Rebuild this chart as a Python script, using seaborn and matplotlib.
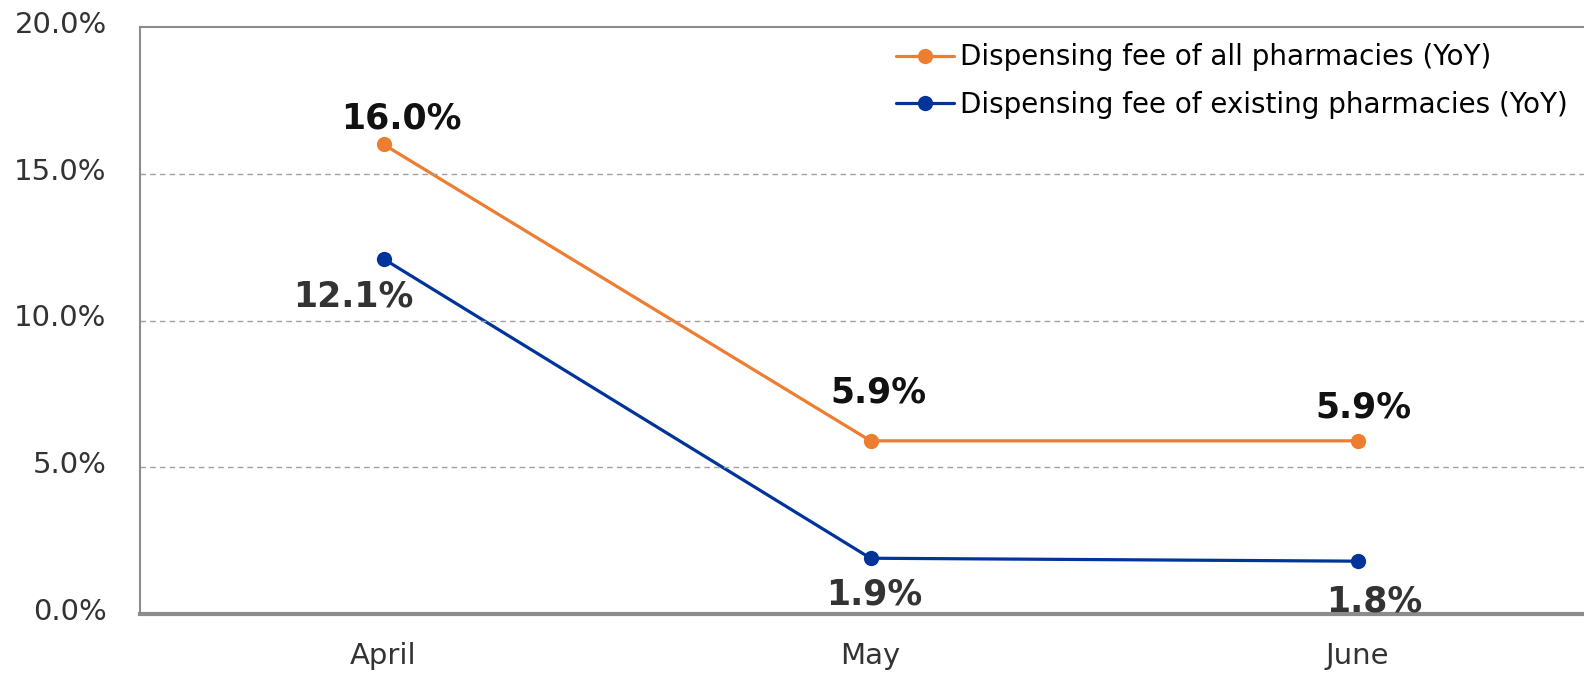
import pandas as pd
import numpy as np
import seaborn as sns
import matplotlib.pyplot as plt
from matplotlib.ticker import FuncFormatter
from matplotlib.transforms import ScaledTranslation

months = ['April', 'May', 'June']
all_pharm = [16.0, 5.9, 5.9]
existing_pharm = [12.1, 1.9, 1.8]
series_names = ['Dispensing fee of all pharmacies (YoY)',
                'Dispensing fee of existing pharmacies (YoY)']

dados = pd.DataFrame({
    'month': months * 2,
    'value': all_pharm + existing_pharm,
    'series': [series_names[0]] * 3 + [series_names[1]] * 3,
})

sns.set_style('white')
plt.rcParams['font.family'] = ['DejaVu Sans']

cores = {series_names[0]: '#ED7D31', series_names[1]: '#00349A'}

fig = plt.figure(figsize=(15.84, 6.75), dpi=100)
ax = fig.add_axes([140 / 1584, 61 / 675, 1 - 140 / 1584, (614 - 27) / 675])

sns.lineplot(data=dados, x='month', y='value', hue='series', palette=cores,
             marker='o', markersize=11, markeredgewidth=0, linewidth=2.3,
             sort=False, ax=ax)

ax.set_xlim(-0.5, 2.465)
ax.set_ylim(0, 20)
ax.set_yticks([0, 5, 10, 15, 20])
ax.yaxis.set_major_formatter(FuncFormatter(lambda v, p: f'{v:.1f}%'))
ax.set_xlabel('')
ax.set_ylabel('')
ax.tick_params(axis='y', labelsize=21, colors='#333333', length=0, pad=24)
ax.tick_params(axis='x', labelsize=21, colors='#333333', length=0, pad=20)

# rótulos do eixo y um pouco acima da linha
desloc = ScaledTranslation(0, 5 / 100, fig.dpi_scale_trans)
for lbl in ax.get_yticklabels():
    lbl.set_transform(lbl.get_transform() + desloc)

for y in [5, 10, 15]:
    ax.axhline(y, color='#A0A0A0', linestyle=(0, (4, 3)), linewidth=1)

for s in ['left', 'top']:
    ax.spines[s].set_color('#8C8C8C')
    ax.spines[s].set_linewidth(1.5)
ax.spines['bottom'].set_color('#8C8C8C')
ax.spines['bottom'].set_linewidth(3)
ax.spines['right'].set_visible(False)

# etiquetas de dados (offsets em pontos)
off_all = [(13, 19), (6, 35), (4, 24)]
off_ex = [(-22, -27), (3, -26), (12, -29)]
for i, m in enumerate(months):
    ax.annotate(f'{all_pharm[i]:.1f}%', (i, all_pharm[i]), xytext=off_all[i],
                textcoords='offset points', ha='center', va='center',
                fontsize=25, fontweight='bold', color='#111111')
    ax.annotate(f'{existing_pharm[i]:.1f}%', (i, existing_pharm[i]), xytext=off_ex[i],
                textcoords='offset points', ha='center', va='center',
                fontsize=25, fontweight='bold', color='#333333')

handles, labels = ax.get_legend_handles_labels()
ax.legend(handles, labels, loc='upper left', bbox_to_anchor=(756 / 1444, 0.972),
          frameon=False, fontsize=20, labelcolor='black',
          handlelength=2.1, handletextpad=0.2, labelspacing=0.69,
          borderaxespad=0, borderpad=0)

plt.savefig('out.png', dpi=100)
